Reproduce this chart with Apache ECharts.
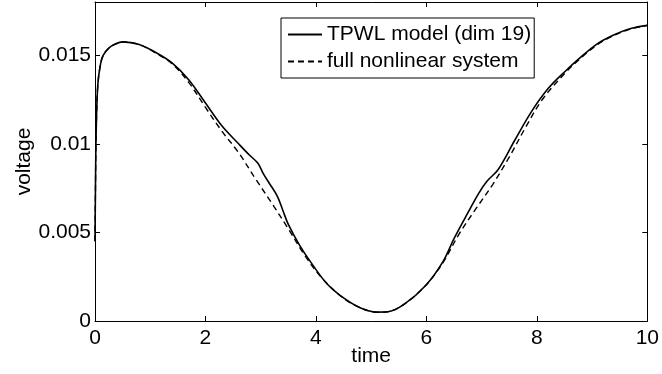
<!DOCTYPE html>
<html>
<head>
<meta charset="utf-8">
<script src="https://cdn.jsdelivr.net/npm/echarts@6/dist/echarts.min.js"></script>
<style>html,body{margin:0;padding:0;background:#fff;}#c{width:662px;height:374px;}</style>
</head>
<body>
<div id="c"></div>
<script>
var tpwlTime = [0, 0.01, 0.02, 0.05, 0.1, 0.15, 0.25, 0.35, 0.5, 0.8, 1.1, 1.4, 1.7, 2.0, 2.3, 2.6, 2.8, 2.95, 3.05, 3.15, 3.3, 3.4, 3.5, 3.7, 3.9, 4.2, 4.5, 4.8, 5.1, 5.3, 5.6, 6.0, 6.3, 6.5, 6.75, 6.95, 7.1, 7.3, 7.6, 7.9, 8.2, 8.5, 8.8, 9.1, 9.4, 9.7, 10];
var tpwlVoltage = [0.0045, 0.0080, 0.0105, 0.0133, 0.0145, 0.0150, 0.0154, 0.0156, 0.01575, 0.01560, 0.01515, 0.01455, 0.01360, 0.01230, 0.01100, 0.01000, 0.00935, 0.00890, 0.00830, 0.00780, 0.00705, 0.00625, 0.00545, 0.00430, 0.00335, 0.00210, 0.00130, 0.00075, 0.00050, 0.00052, 0.00095, 0.00205, 0.00335, 0.00465, 0.00610, 0.00722, 0.00790, 0.00855, 0.01020, 0.01180, 0.01310, 0.01405, 0.01490, 0.01565, 0.01615, 0.01650, 0.01668];
var fullTime = [0, 0.01, 0.02, 0.05, 0.1, 0.15, 0.25, 0.35, 0.5, 0.8, 1.1, 1.4, 1.7, 2.0, 2.3, 2.6, 2.9, 3.2, 3.5, 3.8, 4.1, 4.5, 4.8, 5.1, 5.3, 5.6, 6.0, 6.3, 6.6, 6.9, 7.2, 7.5, 7.8, 8.1, 8.5, 8.8, 9.1, 9.4, 9.7, 10];
var fullVoltage = [0.0045, 0.0080, 0.0105, 0.0133, 0.0145, 0.0150, 0.0154, 0.0156, 0.01575, 0.01560, 0.01512, 0.01450, 0.01345, 0.01205, 0.01070, 0.00950, 0.00805, 0.00665, 0.00520, 0.00370, 0.00245, 0.00128, 0.00075, 0.00050, 0.00052, 0.00095, 0.00205, 0.00330, 0.00495, 0.00635, 0.00770, 0.00925, 0.01095, 0.01250, 0.01395, 0.01485, 0.01560, 0.01612, 0.01648, 0.01668];
var xTickLabels = ['0', '2', '4', '6', '8', '10'];
var yTickValues = [0, 0.005, 0.01, 0.015];
var yTickLabels = ['0', '0.005', '0.01', '0.015'];
var seriesNames = ['TPWL model (dim 19)', 'full nonlinear system'];

function pairs(t, v) { return t.map(function (x, i) { return [x, v[i]]; }); }

var FONT = 'Liberation Sans, Arial, Helvetica, sans-serif';
var axisLineStyle = { show: true, onZero: false, lineStyle: { color: '#000', width: 1 } };
var tickStyle = { show: true, inside: true, length: 5, lineStyle: { color: '#000', width: 1 } };

var chart = echarts.init(document.getElementById('c'), null, { renderer: 'canvas' });
chart.setOption({
  backgroundColor: '#fff',
  animation: false,
  grid: { left: 95, right: 12, top: 2, bottom: 53, containLabel: false },
  legend: {
    orient: 'vertical',
    left: 281,
    top: 18,
    data: seriesNames,
    borderColor: '#000',
    borderWidth: 1,
    backgroundColor: '#fff',
    padding: [6, 3, 6, 6],
    itemWidth: 34,
    itemHeight: 14,
    itemGap: 6,
    itemStyle: { opacity: 0 },
    textStyle: { fontFamily: FONT, fontSize: 21, color: '#000', lineHeight: 21 }
  },
  xAxis: [{
    type: 'value', min: 0, max: 10, interval: 2,
    axisLine: axisLineStyle, axisTick: tickStyle, splitLine: { show: false },
    axisLabel: { fontFamily: FONT, fontSize: 21, color: '#000', margin: 7,
      formatter: function (v) { var i = Math.round(v / 2); return Math.abs(v - i * 2) < 1e-9 ? xTickLabels[i] : ''; } },
    name: 'time', nameLocation: 'middle', nameGap: 25, nameMoveOverlap: false,
    nameTextStyle: { fontFamily: FONT, fontSize: 21, color: '#000' }
  }, {
    type: 'value', min: 0, max: 10, interval: 2, position: 'top', show: true,
    axisLine: axisLineStyle, axisTick: tickStyle, axisLabel: { show: false }, splitLine: { show: false }
  }],
  yAxis: [{
    type: 'value', min: 0, max: 0.018, interval: 0.005,
    axisLine: axisLineStyle, axisTick: tickStyle, splitLine: { show: false },
    axisLabel: { fontFamily: FONT, fontSize: 21, color: '#000', margin: 4,
      formatter: function (v) { for (var i = 0; i < yTickValues.length; i++) { if (Math.abs(v - yTickValues[i]) < 1e-9) return yTickLabels[i]; } return ''; } },
    name: 'voltage', nameLocation: 'middle', nameGap: 60, nameRotate: 90, nameMoveOverlap: false,
    nameTextStyle: { fontFamily: FONT, fontSize: 21, color: '#000' }
  }, {
    type: 'value', min: 0, max: 0.018, interval: 0.005, position: 'right', show: true,
    axisLine: axisLineStyle, axisTick: tickStyle, axisLabel: { show: false }, splitLine: { show: false }
  }],
  series: [{
    name: seriesNames[0], type: 'line', xAxisIndex: 0, yAxisIndex: 0,
    data: pairs(tpwlTime, tpwlVoltage), showSymbol: false, symbol: 'none', smooth: 0.35,
    lineStyle: { color: '#000', width: 1.6, type: 'solid' }, itemStyle: { color: '#000' }
  }, {
    name: seriesNames[1], type: 'line', xAxisIndex: 0, yAxisIndex: 0,
    data: pairs(fullTime, fullVoltage), showSymbol: false, symbol: 'none', smooth: 0.35,
    lineStyle: { color: '#000', width: 1.4, type: [6, 4] }, itemStyle: { color: '#000' }
  }, {
    type: 'line', xAxisIndex: 1, yAxisIndex: 1, data: [], silent: true
  }]
});
</script>
</body>
</html>
